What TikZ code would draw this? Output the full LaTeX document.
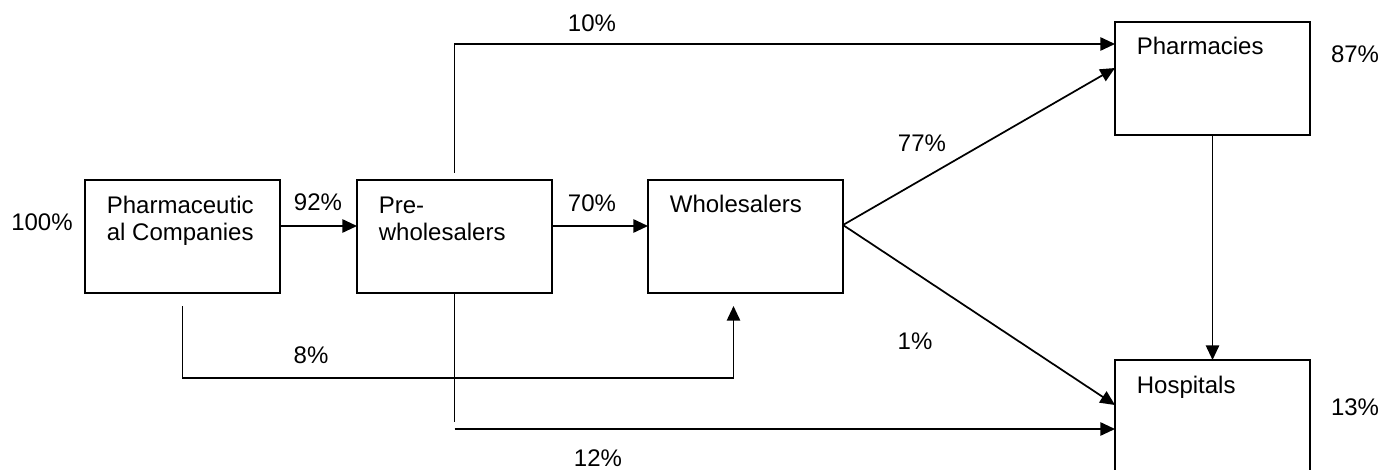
\documentclass[tikz,border=0pt]{standalone}
\usepackage{fontspec}
\setmainfont{Liberation Sans}
\usetikzlibrary{arrows.meta,calc}
\begin{document}
\begin{tikzpicture}[x=0.75pt,y=-0.75pt,
  font=\fontsize{18pt}{20.25pt}\selectfont,
  line width=1.3pt,
  stage/.style={draw,rectangle,anchor=north west,inner sep=0pt,outer sep=0pt,
    minimum width=146.25pt,minimum height=84.75pt},
  boxtext/.style={anchor=base west,inner sep=0pt,align=left},
  pct/.style={inner sep=0pt},
  arr/.style={-{Triangle[length=11pt,width=10pt]}}]
  \clip (0,0) rectangle (1383,470);

  % stages of the supply chain
  \node[stage] (pc) at (85,180) {};
  \node[stage] (pw) at (357,180) {};
  \node[stage] (wh) at (648,180) {};
  \node[stage] (ph) at (1115,22) {};
  \node[stage] (ho) at (1115,360) {};

  % box captions (base anchor of a two-line caption is its last line)
  \node[boxtext] (pctext) at ($(pc.north west)+(21,60)$) {Pharmaceutic\\al Companies};
  \node[boxtext] (pwtext) at ($(pw.north west)+(21,60)$) {Pre-\\wholesalers};
  \node[boxtext] (whtext) at ($(wh.north west)+(21,33)$) {Wholesalers};
  \node[boxtext] (phtext) at ($(ph.north west)+(21,33)$) {Pharmacies};
  \node[boxtext] (hotext) at ($(ho.north west)+(21,33)$) {Hospitals};

  % flows between stages
  \draw[arr] ($(pc.north east)+(0,46)$) -- ($(pw.north west)+(0,46)$);
  \draw[arr] ($(pw.north east)+(0,46)$) -- ($(wh.north west)+(0,46)$);
  \draw[arr] ($(pw.north)+(0,-7)$) |- ($(ph.north west)+(0,22)$);
  \draw[arr] ($(wh.north east)+(0,45)$) -- ($(ph.north west)+(0,46)$);
  \draw[arr] ($(wh.north east)+(0,45)$) -- ($(ho.north west)+(0,45)$);
  \draw[arr] (ph.south) -- (ho.north);
  \draw (pw.south) -- ($(pw.south)+(0,129)$);
  \draw[arr] ($(pw.south)+(0,136)$) -- ($(ho.north west)+(0,69)$);
  \draw[arr] ($(pc.south)+(0,13)$) |- ($(wh.south)+(-12,85)$) -- ($(wh.south)+(-12,13)$);

  % shares
  \node[pct] (p100) at (42,222) {100\%};
  \node[pct] (p92) at (318,202) {92\%};
  \node[pct] (p70) at (592,203) {70\%};
  \node[pct] (p10) at (592,23) {10\%};
  \node[pct] (p77) at (922,143) {77\%};
  \node[pct] (p1) at (915,341) {1\%};
  \node[pct] (p8) at (311,355) {8\%};
  \node[pct] (p12) at (598,458) {12\%};
  \node[pct] (p87) at (1355,54) {87\%};
  \node[pct] (p13) at (1355,407) {13\%};
\end{tikzpicture}
\end{document}
